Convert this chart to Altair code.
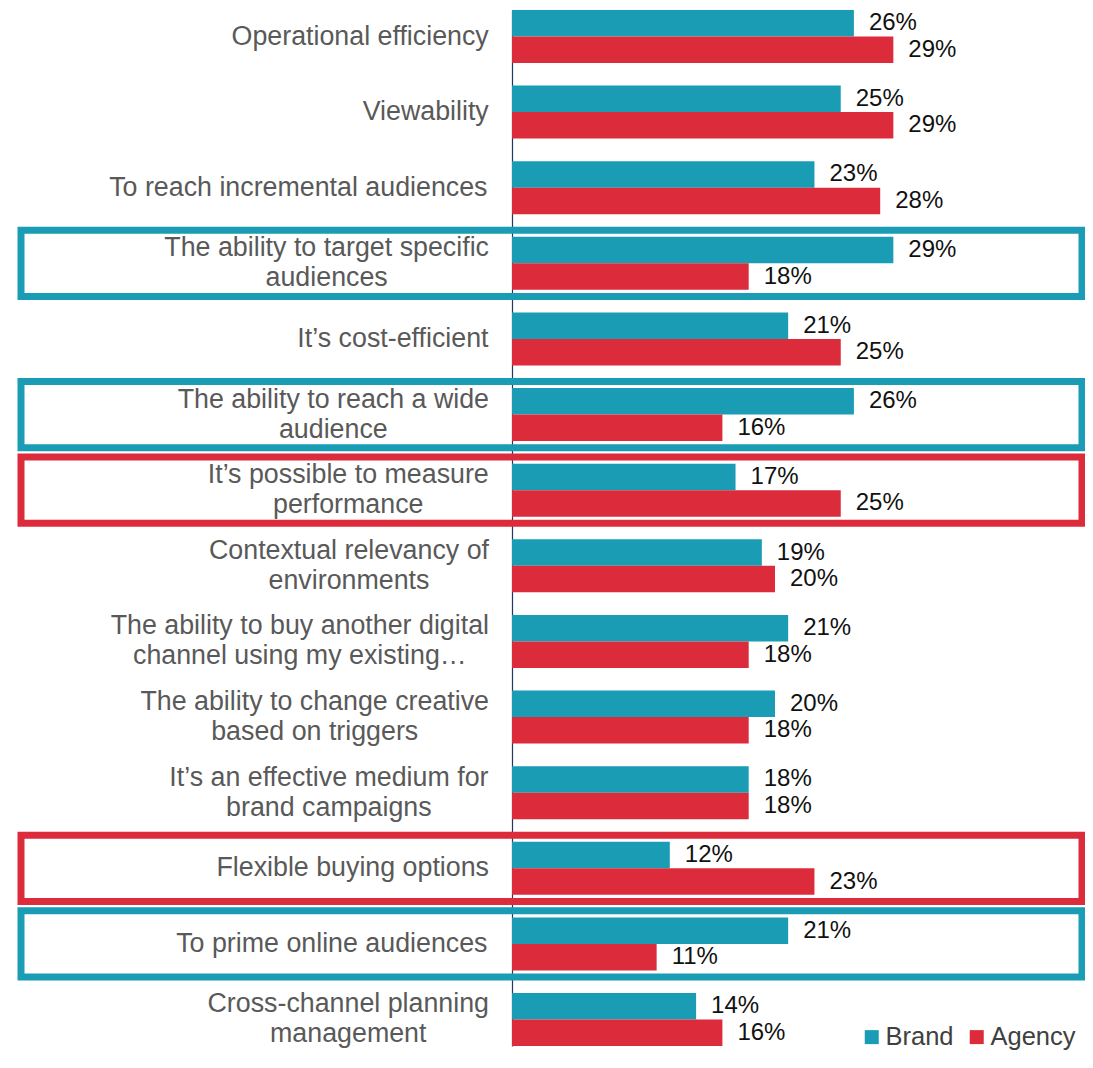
import altair as alt
import pandas as pd

# ---------------- data ----------------
categories = [
    "Operational efficiency",
    "Viewability",
    "To reach incremental audiences",
    "The ability to target specific|audiences",
    "It’s cost-efficient",
    "The ability to reach a wide|audience",
    "It’s possible to measure|performance",
    "Contextual relevancy of|environments",
    "The ability to buy another digital|channel using my existing…",
    "The ability to change creative|based on triggers",
    "It’s an effective medium for|brand campaigns",
    "Flexible buying options",
    "To prime online audiences",
    "Cross-channel planning|management",
]
brand = [26, 25, 23, 29, 21, 26, 17, 19, 21, 20, 18, 12, 21, 14]
agency = [29, 29, 28, 18, 25, 16, 25, 20, 18, 18, 18, 23, 11, 16]
series = ["Brand", "Agency"]
highlight_cats = [
    "The ability to target specific|audiences",
    "The ability to reach a wide|audience",
    "It’s possible to measure|performance",
    "Flexible buying options",
    "To prime online audiences",
]
highlight_series = ["Brand", "Brand", "Agency", "Agency", "Brand"]

# ---------------- style ----------------
TEAL = "#1A9CB5"
RED = "#DC2B3B"
PLOT_W = 565
PLOT_H = 1036
PX = 13.15
X_MAX = PLOT_W / PX
LABEL_FS = 26.8
LABEL_PAD = 23
LINE_H = 30

# Arial / Liberation Sans advance widths (per 1000 em)
AW = {
    "a": 556, "b": 556, "c": 500, "d": 556, "e": 556, "f": 278, "g": 556, "h": 556,
    "i": 222, "j": 222, "k": 500, "l": 222, "m": 833, "n": 556, "o": 556, "p": 556,
    "q": 556, "r": 333, "s": 500, "t": 278, "u": 556, "v": 500, "w": 722, "x": 500,
    "y": 500, "z": 500, "O": 778, "V": 667, "T": 611, "I": 278, "C": 722, "F": 611,
    " ": 278, "’": 222, "-": 333, "…": 1000,
}


def text_w(s, fs):
    return sum(AW.get(ch, 556) for ch in s) / 1000 * fs


# ---------------- tables ----------------
bar_rows = []
for c, b, a in zip(categories, brand, agency):
    bar_rows.append({"cat": c, "series": "Brand", "value": b, "lbl": f"{b}%"})
    bar_rows.append({"cat": c, "series": "Agency", "value": a, "lbl": f"{a}%"})
bars_df = pd.DataFrame(bar_rows)

lab_rows = []
for c in categories:
    parts = c.split("|")
    w = max(text_w(line, LABEL_FS) for line in parts)
    lab_rows.append({"cat": c, "lx": -(LABEL_PAD + w / 2) / PX, "nlines": len(parts)})
labels_df = pd.DataFrame(lab_rows)

box_df = pd.DataFrame({
    "cat": highlight_cats,
    "col": [TEAL if s == "Brand" else RED for s in highlight_series],
    "xl": [-(491 / PX)] * len(highlight_cats),
    "xr": [(570 / PX)] * len(highlight_cats),
})

# ---------------- encodings ----------------
yscale = alt.Scale(domain=categories, paddingInner=0.299, paddingOuter=0)
yaxis = alt.Axis(labels=False, ticks=False, title=None, grid=False,
                 domainColor="#1F3864", domainWidth=1.2)
xscale = alt.Scale(domain=[0, X_MAX], nice=False, zero=True)

Y = alt.Y("cat:N", scale=yscale, axis=yaxis, sort=categories)

boxes = alt.Chart(box_df).mark_bar(
    height=alt.RelativeBandSize(1.25), fillOpacity=0, strokeWidth=7, clip=False
).encode(
    y=Y,
    x=alt.X("xl:Q", scale=xscale, axis=None),
    x2="xr:Q",
    stroke=alt.Stroke("col:N", scale=None),
)

bars = alt.Chart(bars_df).mark_bar().encode(
    y=Y,
    yOffset=alt.YOffset("series:N", sort=series, scale=alt.Scale(domain=series)),
    x=alt.X("value:Q", scale=xscale, axis=None),
    color=alt.Color(
        "series:N",
        scale=alt.Scale(domain=series, range=[TEAL, RED]),
        legend=alt.Legend(
            title=None, orient="none", legendX=347, legendY=1014,
            direction="horizontal", symbolType="square", symbolSize=196,
            symbolStrokeWidth=0, labelFontSize=25.5, labelFont="Liberation Sans",
            labelColor="#404040", labelOffset=1, columnPadding=10,
        ),
    ),
)

values = alt.Chart(bars_df).mark_text(
    align="left", baseline="middle", dx=15, fontSize=24,
    font="Liberation Sans", color="#111111",
).encode(
    y=Y,
    yOffset=alt.YOffset("series:N", sort=series, scale=alt.Scale(domain=series)),
    x=alt.X("value:Q", scale=xscale, axis=None),
    text="lbl:N",
)

label_base = alt.Chart(labels_df).transform_calculate(
    lines="split(datum.cat, '|')"
)
label_enc = dict(
    y=Y,
    x=alt.X("lx:Q", scale=xscale, axis=None),
    text=alt.Text("lines:N"),
)
labels1 = label_base.transform_filter("datum.nlines == 1").mark_text(
    align="center", baseline="middle", fontSize=LABEL_FS, lineHeight=LINE_H,
    font="Liberation Sans", color="#595959", clip=False,
).encode(**label_enc)
labels2 = label_base.transform_filter("datum.nlines == 2").mark_text(
    align="center", baseline="middle", fontSize=LABEL_FS, lineHeight=LINE_H,
    dy=-LINE_H / 2, font="Liberation Sans", color="#595959", clip=False,
).encode(**label_enc)

chart = alt.layer(boxes, bars, values, labels1, labels2).properties(
    width=PLOT_W,
    height=PLOT_H,
    autosize=alt.AutoSizeParams(type="none"),
    padding={"left": 504, "top": 2, "right": 8, "bottom": 10},
).configure_view(strokeWidth=0)

chart.save("out.html", embed_options={"renderer": "svg", "actions": False})
